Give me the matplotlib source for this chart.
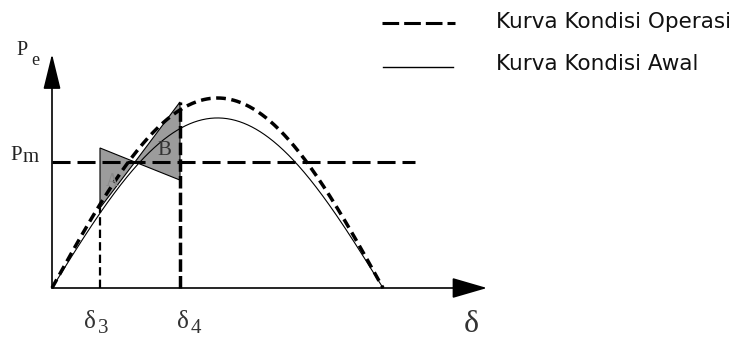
import numpy as np
import matplotlib
matplotlib.use("Agg")
import matplotlib.pyplot as plt
from matplotlib.patches import Polygon, FancyArrowPatch

plt.rcParams['lines.scale_dashes'] = False

# ---- data (delta in degrees, power in per-unit of operating-curve peak) ----
pmax_operasi = 1.0      # peak of "Kurva Kondisi Operasi"
pmax_awal = 0.895       # peak of "Kurva Kondisi Awal"
pm_level = 0.663        # mechanical power Pm
delta3 = 26.1
delta4 = 69.6
delta_max = 180.0
area_A_delta = [26.1, 26.1, 45.1]
area_A_p = [0.737, 0.421, 0.663]
area_B_delta = [45.1, 69.6, 69.6]
area_B_p = [0.663, 0.979, 0.568]
legend_labels = ["Kurva Kondisi Operasi", "Kurva Kondisi Awal"]

W, H = 740, 339
fig = plt.figure(figsize=(W / 100, H / 100), dpi=100)
ax = fig.add_axes([0, 0, 1, 1])
ax.axis('off')

x0_px, y0_px = 52, 288
px_per_deg = (383 - 52) / 180.0
px_per_p = 190.0
ax.set_xlim(-x0_px / px_per_deg, (W - x0_px) / px_per_deg)
ax.set_ylim(-(H - y0_px) / px_per_p, y0_px / px_per_p)


def fx(px):
    return px / W


def fy(py):
    return 1 - py / H


delta = np.linspace(0, delta_max, 400)
p_oper = pmax_operasi * np.sin(np.radians(delta))
p_awal = pmax_awal * np.sin(np.radians(delta))

# shaded areas
ax.add_patch(Polygon(np.column_stack([area_A_delta, area_A_p]), closed=True,
                     facecolor='#9c9c9c', edgecolor='black', lw=0.8, zorder=2))
ax.add_patch(Polygon(np.column_stack([area_B_delta, area_B_p]), closed=True,
                     facecolor='#9c9c9c', edgecolor='black', lw=0.8, zorder=2))

# curves
ax.plot(delta, p_awal, color='black', lw=0.8, zorder=3)
ax.plot(delta, p_oper, color='black', lw=2.5, dashes=(7, 4), zorder=3)

# Pm line
x_end_pm = (415 - x0_px) / px_per_deg
ax.plot([0, x_end_pm], [pm_level, pm_level], color='black', lw=2.2,
        dashes=(13, 5), zorder=4)

# delta3 / delta4 verticals
ax.plot([delta3, delta3], [0, area_A_p[1]], color='black', lw=1.6,
        dashes=(6, 3), zorder=4)
ax.plot([delta4, delta4], [0, area_B_p[1]], color='black', lw=2.5,
        dashes=(9, 3), zorder=4)

# axes with arrows
x_tip = (487 - x0_px) / px_per_deg
y_tip = (y0_px - 54) / px_per_p
ax.add_patch(FancyArrowPatch((0, 0), (x_tip, 0),
                             arrowstyle='-|>,head_length=1.1,head_width=0.32',
                             mutation_scale=20, lw=1.2, color='black',
                             shrinkA=0, shrinkB=0, zorder=5))
ax.add_patch(FancyArrowPatch((0, 0), (0, y_tip),
                             arrowstyle='-|>,head_length=1.1,head_width=0.27',
                             mutation_scale=20, lw=1.2, color='black',
                             shrinkA=0, shrinkB=0, zorder=5))

serif = 'Liberation Serif'
# labels
ax.text(fx(16), fy(55), 'P', transform=ax.transAxes, family=serif,
        fontsize=14.5, va='baseline', ha='left', color='#222')
ax.text(fx(31), fy(65), 'e', transform=ax.transAxes, family=serif,
        fontsize=13, va='baseline', ha='left', color='#222')
ax.text(fx(10), fy(160), 'P', transform=ax.transAxes, family=serif,
        fontsize=15, va='baseline', ha='left', color='#222')
ax.text(fx(23), fy(162), 'm', transform=ax.transAxes, family=serif,
        fontsize=15, va='baseline', ha='left', color='#222')

ax.text(fx(84), fy(328), 'δ', transform=ax.transAxes, family=serif,
        fontsize=18, va='baseline', ha='left', color='#333')
ax.text(fx(98), fy(333), '3', transform=ax.transAxes, family=serif,
        fontsize=15, va='baseline', ha='left', color='#333')
ax.text(fx(177), fy(328), 'δ', transform=ax.transAxes, family=serif,
        fontsize=18, va='baseline', ha='left', color='#333')
ax.text(fx(191), fy(333), '4', transform=ax.transAxes, family=serif,
        fontsize=15, va='baseline', ha='left', color='#333')
ax.text(fx(464), fy(332), 'δ', transform=ax.transAxes, family=serif,
        fontsize=23, va='baseline', ha='left', color='#333')

ax.text(fx(164), fy(151), 'B', transform=ax.transAxes, family=serif,
        fontsize=15, va='center', ha='center', color='#333', zorder=6)
ax.text(fx(112), fy(181), 'A', transform=ax.transAxes, family=serif,
        fontsize=13, va='center', ha='center', color='#8a8a8a', zorder=6)

# legend
ax.plot([fx(382), fx(455)], [fy(23), fy(23)], transform=ax.transAxes,
        color='black', lw=2.2, dashes=(12, 3.6))
ax.plot([fx(383), fx(453)], [fy(67), fy(67)], transform=ax.transAxes,
        color='black', lw=1.0)
ax.text(fx(496), fy(28), legend_labels[0], transform=ax.transAxes,
        fontsize=15.5, va='baseline', ha='left', color='#111')
ax.text(fx(496), fy(70), legend_labels[1], transform=ax.transAxes,
        fontsize=15.5, va='baseline', ha='left', color='#111')

fig.savefig('out.png', dpi=100)
